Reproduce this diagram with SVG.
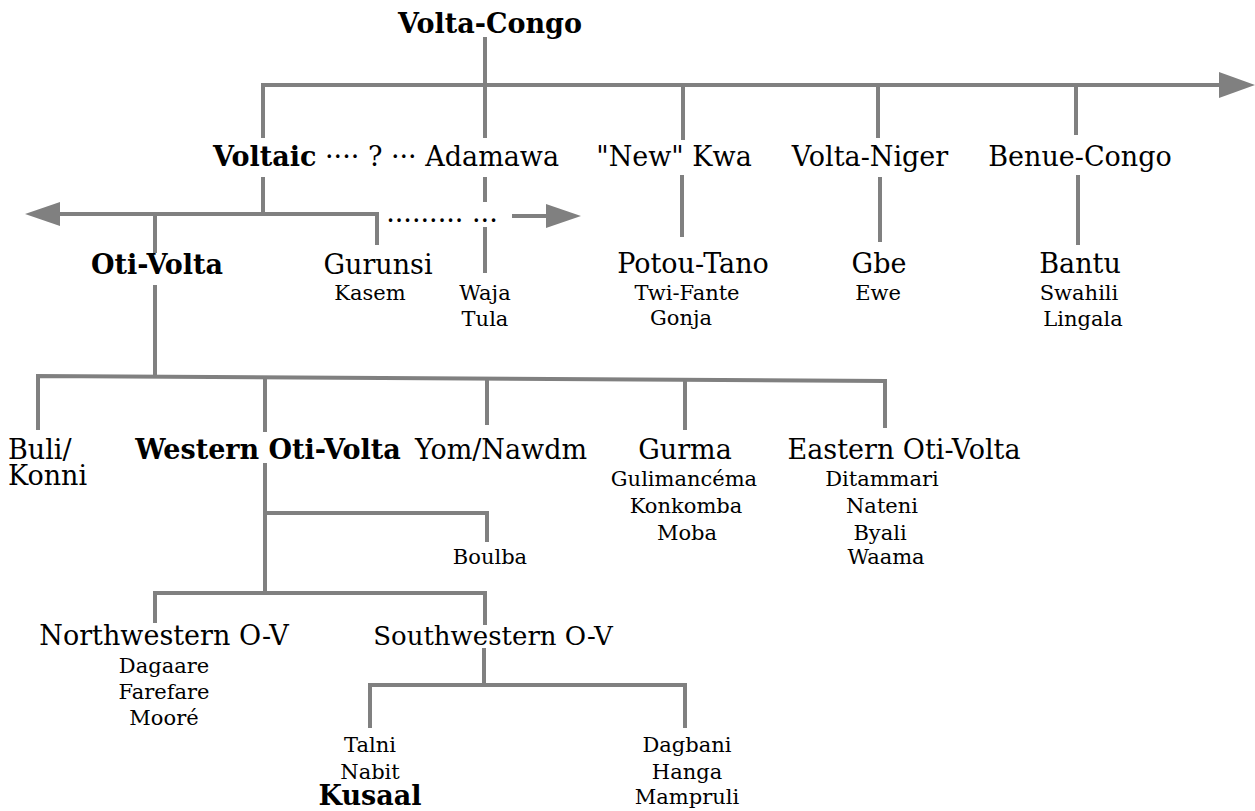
<svg xmlns="http://www.w3.org/2000/svg" width="1255" height="811" viewBox="0 0 1255 811">
<style>
text{font-family:"DejaVu Serif","Liberation Serif",serif;fill:#000;text-anchor:middle}
.b{font-size:27px}
.s{font-size:21px}
.bold{font-weight:bold}
.st{text-anchor:start}
.ln{stroke:#808080;stroke-width:4;fill:none}
.ah{fill:#808080}
</style>
<rect width="1255" height="811" fill="#fff"/>
<g id="connectors">
<path class="ln" d="M485,37V138"/>
<path class="ln" d="M263,138V85H1222"/>
<polygon class="ah" points="1219,72 1255,85 1219,98"/>
<path class="ln" d="M683,85V140M878,85V138M1076,85V135"/>
<path class="ln" d="M682,175V237M880,177V242M1078,175V245"/>
<path class="ln" d="M263,177V214M60,214H377V245M155,214V253"/>
<polygon class="ah" points="25,214 60,202 60,226"/>
<path class="ln" d="M512,216H547"/>
<polygon class="ah" points="546,204 581,216 546,228"/>
<path class="ln" d="M485,177V202M485,227V273"/>
<path class="ln" d="M155,285V376"/>
<path class="ln" d="M38,430V376L885,381V428"/>
<path class="ln" d="M265,377V432M487,379V425M685,380V430"/>
<path class="ln" d="M265,463V593M265,513H487V542"/>
<path class="ln" d="M155,623V593H485V625"/>
<path class="ln" d="M484,648V685M370,728V685H685V728"/>
</g>
<g id="n-volta-congo"><text class="b bold" x="490" y="33">Volta-Congo</text></g>
<g id="n-voltaic"><text class="b st" x="213" y="166"><tspan class="bold">Voltaic</tspan> ···· ? ··· Adamawa</text></g>
<g id="n-newkwa"><text class="b" x="674" y="166">"New" Kwa</text></g>
<g id="n-voltaniger"><text class="b" x="870" y="166">Volta-Niger</text></g>
<g id="n-benuecongo"><text class="b" x="1080" y="166">Benue-Congo</text></g>
<g id="n-dots"><text class="b" x="442" y="222">......... ...</text></g>
<g id="n-otivolta"><text class="b bold" x="157" y="274">Oti-Volta</text></g>
<g id="n-gurunsi"><text class="b" x="378" y="274">Gurunsi</text><text class="s" x="370" y="300">Kasem</text></g>
<g id="n-waja"><text class="s" x="485" y="300">Waja</text><text class="s" x="485" y="326">Tula</text></g>
<g id="n-potou"><text class="b" x="693" y="273">Potou-Tano</text><text class="s" x="687" y="300">Twi-Fante</text><text class="s" x="681" y="325">Gonja</text></g>
<g id="n-gbe"><text class="b" x="879" y="273">Gbe</text><text class="s" x="878" y="300">Ewe</text></g>
<g id="n-bantu"><text class="b" x="1080" y="273">Bantu</text><text class="s" x="1079" y="300">Swahili</text><text class="s" x="1083" y="326">Lingala</text></g>
<g id="n-buli"><text class="b st" x="8" y="459">Buli/</text><text class="b st" x="8" y="485">Konni</text></g>
<g id="n-western"><text class="b bold" x="268" y="459">Western Oti-Volta</text></g>
<g id="n-yom"><text class="b" x="501" y="459">Yom/Nawdm</text></g>
<g id="n-gurma"><text class="b" x="685" y="459">Gurma</text><text class="s" x="684" y="486">Gulimancéma</text><text class="s" x="686" y="513">Konkomba</text><text class="s" x="687" y="540">Moba</text></g>
<g id="n-eastern"><text class="b" x="904" y="459">Eastern Oti-Volta</text><text class="s" x="882" y="486">Ditammari</text><text class="s" x="882" y="513">Nateni</text><text class="s" x="880" y="540">Byali</text><text class="s" x="886" y="564">Waama</text></g>
<g id="n-boulba"><text class="s" x="490" y="564">Boulba</text></g>
<g id="n-northwestern"><text class="b" x="164" y="645">Northwestern O-V</text><text class="s" x="164" y="673">Dagaare</text><text class="s" x="164" y="699">Farefare</text><text class="s" x="164" y="725">Mooré</text></g>
<g id="n-southwestern"><text class="b" x="493" y="645" style="font-size:26px">Southwestern O-V</text></g>
<g id="n-kusaal"><text class="s" x="370" y="752">Talni</text><text class="s" x="370" y="779">Nabit</text><text class="b bold" x="370" y="805">Kusaal</text></g>
<g id="n-dagbani"><text class="s" x="687" y="752">Dagbani</text><text class="s" x="687" y="779">Hanga</text><text class="s" x="687" y="804">Mampruli</text></g>
</svg>
